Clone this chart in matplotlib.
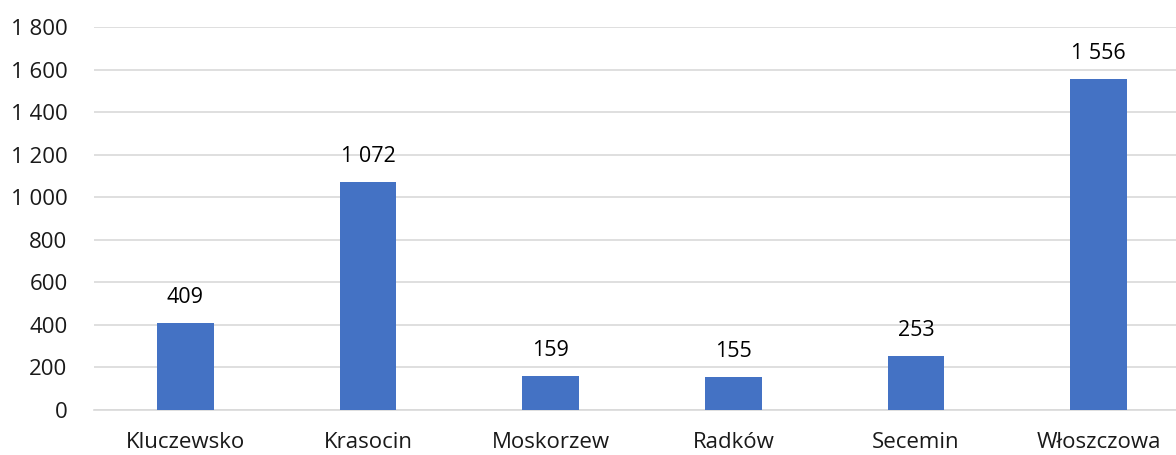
import matplotlib
matplotlib.use("Agg")
import matplotlib.pyplot as plt
from matplotlib.ticker import FuncFormatter

gminy = ["Kluczewsko", "Krasocin", "Moskorzew", "Radków", "Secemin", "Włoszczowa"]
wartosci = [409, 1072, 159, 155, 253, 1556]

plt.rcParams['font.family'] = ['Open Sans', 'DejaVu Sans']

def fmt(v, pos=None):
    return f"{int(v):,}".replace(",", " ")

fig = plt.figure(figsize=(11.76, 4.55), dpi=100)
# plot area runs a little past the right edge (cropped chart)
ax = fig.add_axes([94/1176, 45/455, 1096/1176, 383/455])

x = range(len(gminy))
ax.bar(x, wartosci, width=0.31, color="#4472C4", zorder=3)
for i, v in enumerate(wartosci):
    ax.text(i, v + 70, fmt(v), ha="center", va="bottom", fontsize=15.5,
            color="black", fontweight="medium")

ax.set_xlim(-0.5, len(gminy) - 0.5)
ax.set_ylim(0, 1800)
ax.set_yticks(range(0, 1801, 200))
ax.yaxis.set_major_formatter(FuncFormatter(fmt))
ax.set_xticks(list(x))
ax.set_xticklabels(gminy)
ax.grid(axis="y", color="#D9D9D9", linewidth=1.2, zorder=0)
for s in ["top", "right", "left"]:
    ax.spines[s].set_visible(False)
ax.spines["bottom"].set_color("#D9D9D9")
ax.spines["bottom"].set_linewidth(1.2)
ax.tick_params(axis="both", length=0, labelsize=16, colors="#1A1A1A")
ax.tick_params(axis="x", pad=16)
ax.tick_params(axis="y", pad=19)

fig.savefig("out.png", dpi=100)
